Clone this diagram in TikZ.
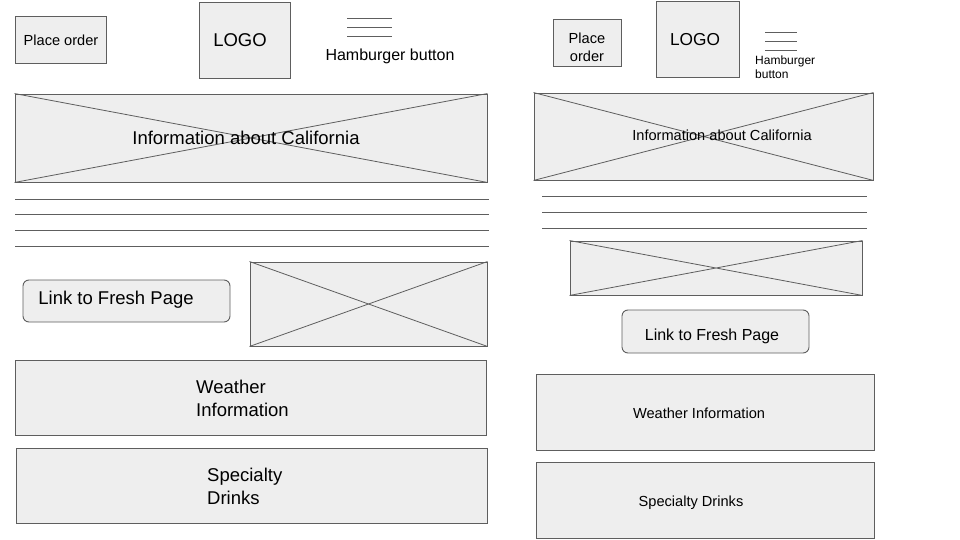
\documentclass[tikz,border=0pt]{standalone}
\usepackage{fontspec}
\setmainfont{Liberation Sans}
\definecolor{edge}{HTML}{5E5E5E}
\definecolor{boxfill}{HTML}{EEEEEE}
\tikzset{
  wf/.style={draw=edge, fill=boxfill, line width=0.9pt, inner sep=0pt},
  rbtn/.style={wf, rounded corners=6pt},
  xline/.style={draw=edge, line width=0.8pt},
  txt/.style={inner sep=0pt, text=black},
  fA/.style={font=\fontsize{18.5}{23}\selectfont},
  fB/.style={font=\fontsize{14.6}{18}\selectfont},
  fC/.style={font=\fontsize{16}{19}\selectfont},
  fD/.style={font=\fontsize{12}{14}\selectfont},
}
\begin{document}
\begin{tikzpicture}[x=1pt,y=-1pt]
\fill[white] (0,0) rectangle (960,540);
\useasboundingbox (0,0) rectangle (960,540);

% ---------- left layout ----------
\node[wf, minimum width=91pt, minimum height=47pt] (po1) at (60.5,39.5) {};
\node[txt, fB] (po1t) at (61,40.5) {Place order};
\node[wf, minimum width=91pt, minimum height=76pt] (logo1) at (244.5,40) {};
\node[txt, fA] (logo1t) at (240,40.5) {LOGO};
\draw[xline] (347,18) -- (392,18) (347,27) -- (392,27) (347,36) -- (392,36);
\node[txt, fC] (ham1) at (390,56.5) {Hamburger button};

\node[wf, minimum width=472pt, minimum height=88pt] (info1) at (251,138) {};
\draw[xline] (info1.north west) -- (info1.south east) (info1.south west) -- (info1.north east);
\node[txt, fA] (info1t) at (246,138) {Information about California};

\draw[xline] (15,199) -- (489,199) (15,214.5) -- (489,214.5) (15,230.5) -- (489,230.5) (15,246.5) -- (489,246.5);

\node[rbtn, minimum width=207pt, minimum height=42pt] (link1) at (126.5,301) {};
\node[txt, fA] (link1t) at (116,299.5) {Link to Fresh Page};
\node[wf, minimum width=237pt, minimum height=84pt] (img1) at (368.5,304) {};
\draw[xline] (img1.north west) -- (img1.south east) (img1.south west) -- (img1.north east);

\node[wf, minimum width=471pt, minimum height=75pt] (weather1) at (250.5,397.5) {};
\node[txt, fA, align=left, anchor=west] (weather1t) at (196,398.5) {Weather\\Information};
\node[wf, minimum width=471pt, minimum height=75pt] (spec1) at (251.5,485.5) {};
\node[txt, fA, align=left, anchor=west] (spec1t) at (207,486) {Specialty\\Drinks};

% ---------- right layout ----------
\node[wf, minimum width=68pt, minimum height=47pt] (po2) at (587,42.5) {};
\node[txt, fB, align=center] (po2t) at (587,47.5) {Place\\order};
\node[wf, minimum width=83pt, minimum height=76pt] (logo2) at (697.5,39) {};
\node[txt, font=\fontsize{17.3}{20}\selectfont] (logo2t) at (695,39.5) {LOGO};
\draw[xline] (765,32) -- (797,32) (765,41) -- (797,41) (765,50) -- (797,50);
\node[txt, fD, align=left, anchor=west] (ham2) at (755,67.5) {Hamburger\\button};

\node[wf, minimum width=339pt, minimum height=87pt] (info2) at (703.5,136.5) {};
\draw[xline] (info2.north west) -- (info2.south east) (info2.south west) -- (info2.north east);
\node[txt, fB] (info2t) at (722,135) {Information about California};

\draw[xline] (542,196) -- (867,196) (542,212) -- (867,212) (542,228) -- (867,228);

\node[wf, minimum width=292pt, minimum height=54pt] (img2) at (716,268) {};
\draw[xline] (img2.north west) -- (img2.south east) (img2.south west) -- (img2.north east);

\node[rbtn, minimum width=187pt, minimum height=43pt] (link2) at (715.5,331.5) {};
\node[txt, fC] (link2t) at (712,336) {Link to Fresh Page};

\node[wf, minimum width=338pt, minimum height=76pt] (weather2) at (705,412) {};
\node[txt, fB] (weather2t) at (699,413) {Weather Information};
\node[wf, minimum width=338pt, minimum height=76pt] (spec2) at (705,500) {};
\node[txt, fB] (spec2t) at (691,502.5) {Specialty Drinks};
\end{tikzpicture}
\end{document}
